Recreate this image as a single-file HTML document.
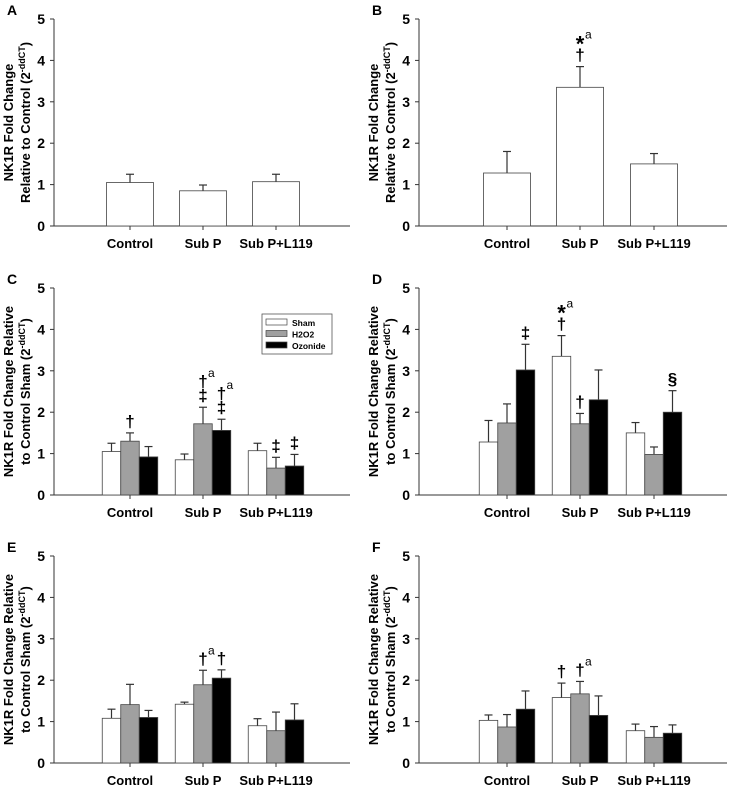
<!DOCTYPE html>
<html><head><meta charset="utf-8"><style>
body{margin:0;background:#fff;}
svg{display:block;font-family:"Liberation Sans",Arial,sans-serif;}
</style></head><body>
<svg id="fig" width="730" height="787" viewBox="0 0 730 787"></svg>
<script>
const categories = ["Control","Sub P","Sub P+L119"];
const yTicks = [0,1,2,3,4,5];
const seriesNames = ["Sham","H2O2","Ozonide"];
const seriesFill = ["#ffffff","#a0a0a0","#000000"];
// panel A / B single-series
const aVals = [1.05,0.85,1.07];
const aErr  = [0.20,0.14,0.18];
const bVals = [1.28,3.35,1.50];
const bErr  = [0.52,0.50,0.25];
// panel C
const cSham=[1.05,0.85,1.07], cShamErr=[0.20,0.14,0.18];
const cH2o2=[1.30,1.72,0.65], cH2o2Err=[0.20,0.40,0.26];
const cOzo =[0.92,1.56,0.70], cOzoErr =[0.25,0.27,0.28];
// panel D
const dSham=[1.28,3.35,1.50], dShamErr=[0.52,0.50,0.25];
const dH2o2=[1.74,1.72,0.98], dH2o2Err=[0.46,0.25,0.18];
const dOzo =[3.02,2.30,2.00], dOzoErr =[0.62,0.72,0.52];
// panel E
const eSham=[1.08,1.42,0.90], eShamErr=[0.22,0.05,0.17];
const eH2o2=[1.41,1.89,0.78], eH2o2Err=[0.49,0.35,0.45];
const eOzo =[1.10,2.05,1.04], eOzoErr =[0.17,0.20,0.39];
// panel F
const fSham=[1.03,1.58,0.78], fShamErr=[0.13,0.35,0.16];
const fH2o2=[0.87,1.67,0.62], fH2o2Err=[0.30,0.30,0.26];
const fOzo =[1.30,1.15,0.72], fOzoErr =[0.44,0.47,0.20];

const NS="http://www.w3.org/2000/svg";
const svg=document.getElementById('fig');
function el(tag,attrs,parent){const e=document.createElementNS(NS,tag);for(const k in attrs)e.setAttribute(k,attrs[k]);(parent||svg).appendChild(e);return e;}

const panels=[
 {id:"A",ax:54,y0:226,y5:19,right:350,centers:[130,203,276],single:true,vals:[aVals],errs:[aErr],ytitle:["NK1R Fold Change","Relative to Control (2"],ann:[]},
 {id:"B",ax:419,y0:226,y5:19,right:727,centers:[507,580,654],single:true,vals:[bVals],errs:[bErr],ytitle:["NK1R Fold Change","Relative to Control (2"],
  ann:[[1,0,[["†",""],["*","a"]]]]},
 {id:"C",ax:54,y0:495,y5:288,right:350,centers:[130,203,276],vals:[cSham,cH2o2,cOzo],errs:[cShamErr,cH2o2Err,cOzoErr],ytitle:["NK1R Fold Change Relative","to Control Sham (2"],legend:true,
  ann:[[0,1,[["†",""]]],[1,1,[["‡",""],["†","a"]]],[1,2,[["‡",""],["†","a"]]],[2,1,[["‡",""]]],[2,2,[["‡",""]]]]},
 {id:"D",ax:419,y0:495,y5:288,right:727,centers:[507,580,654],vals:[dSham,dH2o2,dOzo],errs:[dShamErr,dH2o2Err,dOzoErr],ytitle:["NK1R Fold Change Relative","to Control Sham (2"],
  ann:[[0,2,[["‡",""]]],[1,0,[["†",""],["*","a"]]],[1,1,[["†",""]]],[2,2,[["§",""]]]]},
 {id:"E",ax:54,y0:763,y5:556,right:350,centers:[130,203,276],vals:[eSham,eH2o2,eOzo],errs:[eShamErr,eH2o2Err,eOzoErr],ytitle:["NK1R Fold Change Relative","to Control Sham (2"],
  ann:[[1,1,[["†","a"]]],[1,2,[["†",""]]]]},
 {id:"F",ax:419,y0:763,y5:556,right:727,centers:[507,580,654],vals:[fSham,fH2o2,fOzo],errs:[fShamErr,fH2o2Err,fOzoErr],ytitle:["NK1R Fold Change Relative","to Control Sham (2"],
  ann:[[1,0,[["†",""]]],[1,1,[["†","a"]]]]}
];

panels.forEach(p=>{
  const g=el('g',{});
  
  
  const ys=v=>p.y0-(p.y0-p.y5)*v/5;
  const lab=el('text',{x:p.ax-47,y:p.y5-4,'font-size':14,'font-weight':'bold'},g);lab.textContent=p.id;
  
  
  const ya=el('line',{x1:p.ax,y1:p.y5,x2:p.ax,y2:p.y0,stroke:'#333','stroke-width':1},g);
  
  const xa=el('line',{x1:p.ax,y1:p.y0,x2:p.right,y2:p.y0,stroke:'#333','stroke-width':1},g);
  
  yTicks.forEach(t=>{
    const y=ys(t);
    el('line',{x1:p.ax-4,y1:y,x2:p.ax,y2:y,stroke:'#333'},g);
    const tx=el('text',{x:p.ax-9,y:y+5,'font-size':14,'font-weight':'bold','text-anchor':'end'},g);tx.textContent=t;
    
  });
  categories.forEach((c,i)=>{
    el('line',{x1:p.centers[i],y1:p.y0,x2:p.centers[i],y2:p.y0+4,stroke:'#333'},g);
    const tx=el('text',{x:p.centers[i],y:p.y0+22,'font-size':13,'font-weight':'bold','text-anchor':'middle'},g);tx.textContent=c;
    
  });
  const cy=(p.y0+p.y5)/2, tx1=p.ax-41;
  const t=el('text',{transform:`translate(${tx1},${cy}) rotate(-90)`,'font-size':13,'font-weight':'bold','text-anchor':'middle'},g);
  
  const t1=el('tspan',{x:0,dy:0},t);t1.textContent=p.ytitle[0];
  const t2=el('tspan',{x:0,dy:17},t);t2.textContent=p.ytitle[1];
  const t3=el('tspan',{dy:-5,'font-size':9},t);t3.textContent='-ddCT';
  const t4=el('tspan',{dy:5},t);t4.textContent=')';
  const bw=p.single?47:18.5;
  const barPos=(gi,si)=>p.single?p.centers[gi]:p.centers[gi]+(si-1)*bw;
  p.vals.forEach((arr,si)=>{
    arr.forEach((v,gi)=>{
      const cx=barPos(gi,si);
      const top=ys(v), et=ys(v+p.errs[si][gi]);
      const fill=p.single?'#fff':seriesFill[si];
      el('line',{x1:cx,y1:top,x2:cx,y2:et,stroke:'#333','stroke-width':1.2},g);
      el('line',{x1:cx-4,y1:et,x2:cx+4,y2:et,stroke:'#333','stroke-width':1.2},g);
      const r=el('rect',{x:cx-bw/2,y:top,width:bw,height:p.y0-top,fill:fill,stroke:'#444','stroke-width':0.8},g);
      
      
    });
  });
  p.ann.forEach(a=>{
    const [gi,si,lines]=a;
    const idx=p.single?0:si;
    const cx=barPos(gi,idx);
    let y=ys(p.vals[idx][gi]+p.errs[idx][gi])-6;
    lines.forEach(([s,sup])=>{
      const star=s==='*';
      const tt=el('text',{x:cx,y:star?y+5:y,'font-size':star?22:17,'text-anchor':'middle','font-weight':'bold'},g);
      
      tt.textContent=s;
      if(sup){const sp=el('text',{x:cx+5,y:y-(star?8:10),'font-size':12},g);sp.textContent=sup;
        }
      y-=14;
    });
  });
  if(p.legend){
    const lg=el('g',{},g);
    
    el('rect',{x:262,y:314,width:70,height:40,fill:'#fff',stroke:'#555','stroke-width':0.8},lg);
    seriesNames.forEach((s,i)=>{
      const yy=319+i*11.5;
      const sw=el('rect',{x:266,y:yy,width:21,height:6,fill:seriesFill[i],stroke:'#444','stroke-width':0.7},lg);
      
      const lt=el('text',{x:292,y:yy+7,'font-size':8.5,'font-weight':'bold'},lg);lt.textContent=s;
      
    });
  }
});
</script>
</body></html>
